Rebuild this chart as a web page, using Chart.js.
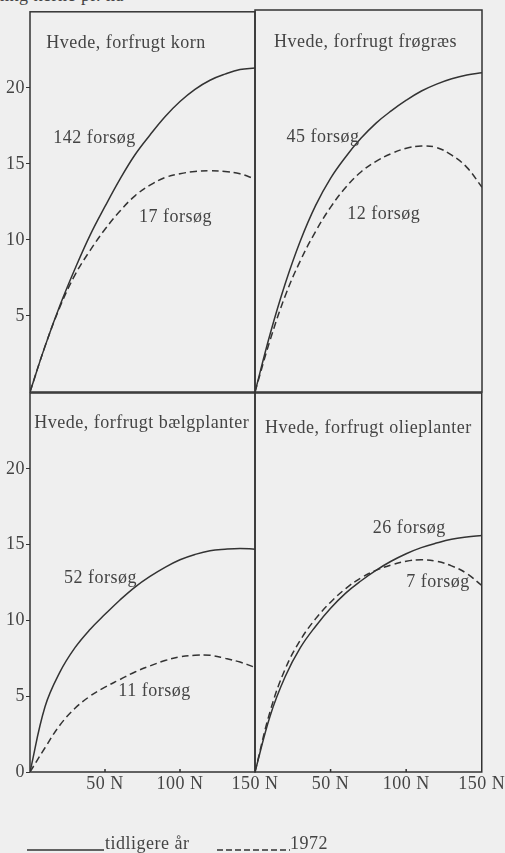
<!DOCTYPE html>
<html>
  <head>
    <script src="https://cdn.jsdelivr.net/npm/chart.js@4.4.0/dist/chart.umd.min.js"></script>
    <style>
      body { margin: 0; background: #efefef; width: 505px; height: 853px; overflow: hidden; position: relative; }
      canvas { position: absolute; left: 0; top: 0; }
      .txt { position: absolute; font-family: "Liberation Serif", serif; font-size: 18px; color: #444; letter-spacing: 0.5px; white-space: nowrap; }
      svg { position: absolute; }
    </style>
  </head>
  <body>
    <div class="txt" style="left:0px; top:-15px;">hkg kerne pr. ha</div>
    <canvas id="tl" width="505" height="853"></canvas>
    <canvas id="tr" width="505" height="853"></canvas>
    <canvas id="bl" width="505" height="853"></canvas>
    <canvas id="br" width="505" height="853"></canvas>
    <svg style="left:27px; top:846px;" width="78" height="8"><line x1="0" y1="4" x2="77" y2="4" stroke="#333" stroke-width="1.5"/></svg>
    <div class="txt" style="left:105px; top:833px;">tidligere år</div>
    <svg style="left:217px; top:846px;" width="74" height="8"><line x1="0" y1="4" x2="73" y2="4" stroke="#333" stroke-width="1.5" stroke-dasharray="6,3"/></svg>
    <div class="txt" style="left:290px; top:833px;">1972</div>
    <script>
      // DATA (hkg kerne pr. ha vs kg N)
      const nValues = [0, 10, 20, 30, 40, 50, 60, 70, 80, 90, 100, 110, 120, 130, 140, 150];

      const kornTidligere = [0, 3.0, 5.7, 8.1, 10.3, 12.2, 14.0, 15.6, 16.9, 18.1, 19.1, 19.9, 20.5, 20.9, 21.2, 21.3];
      const korn1972 = [0, 3.0, 5.6, 7.7, 9.3, 10.7, 11.9, 12.9, 13.6, 14.1, 14.35, 14.5, 14.55, 14.5, 14.35, 14.0];
      const frograesTidligere = [0, 3.8, 7.1, 9.9, 12.2, 14.0, 15.4, 16.6, 17.6, 18.4, 19.1, 19.7, 20.15, 20.5, 20.75, 20.9];
      const frograes1972 = [0, 3.4, 6.3, 8.6, 10.5, 12.1, 13.4, 14.4, 15.1, 15.6, 15.95, 16.1, 16.0, 15.5, 14.7, 13.4];
      const baelgTidligere = [0, 4.3, 6.6, 8.2, 9.4, 10.4, 11.35, 12.2, 12.9, 13.5, 14.0, 14.35, 14.6, 14.7, 14.75, 14.7];
      const baelg1972 = [0, 1.6, 3.1, 4.2, 5.0, 5.6, 6.1, 6.6, 7.0, 7.35, 7.6, 7.7, 7.7, 7.5, 7.25, 6.9];
      const olieTidligere = [0, 3.7, 6.3, 8.2, 9.6, 10.8, 11.8, 12.6, 13.3, 13.9, 14.4, 14.8, 15.1, 15.35, 15.5, 15.6];
      const olie1972 = [0, 4.0, 6.8, 8.7, 10.1, 11.2, 12.1, 12.8, 13.3, 13.65, 13.9, 14.0, 13.9, 13.6, 13.1, 12.3];

      const yTicksTop = [5, 10, 15, 20];
      const yTicksBottom = [0, 5, 10, 15, 20];
      const xTicks = [50, 100, 150];

      // HELPERS

      const FONT = { family: "'Liberation Serif', serif", size: 18 };
      const INK = "#333";
      const TEXT = "#444";

      function toPoints(arr) {
        return arr.map(function (v, i) {
          return { x: nValues[i], y: v };
        });
      }

      // frame around each panel, small inward x tick marks, in-panel texts
      const panelPlugin = {
        id: "panel",
        beforeDraw: function (chart) {
          chart.ctx.letterSpacing = "0.5px";
        },
        afterDatasetsDraw: function (chart, args, opts) {
          const ctx = chart.ctx;
          const a = chart.chartArea;
          ctx.save();
          ctx.strokeStyle = INK;
          ctx.lineWidth = 1.5;
          ctx.strokeRect(a.left, a.top, a.right - a.left, a.bottom - a.top);
          if (opts.xMarks) {
            ctx.beginPath();
            xTicks.slice(0, 2).forEach(function (v) {
              const px = chart.scales.x.getPixelForValue(v);
              ctx.moveTo(px, a.bottom);
              ctx.lineTo(px, a.bottom - 3);
            });
            ctx.stroke();
          }
          ctx.fillStyle = TEXT;
          ctx.font = FONT.size + "px " + FONT.family;
          ctx.textAlign = "center";
          ctx.textBaseline = "middle";
          (opts.labels || []).forEach(function (l) {
            ctx.fillText(l.text, chart.scales.x.getPixelForValue(l.x), chart.scales.y.getPixelForValue(l.y));
          });
          ctx.restore();
        },
      };

      function makePanel(id, solid, dashed, cfg) {
        return new Chart(document.getElementById(id), {
          type: "line",
          data: {
            datasets: [
              {
                data: toPoints(solid),
                borderColor: INK,
                borderWidth: 1.5,
                pointRadius: 0,
                tension: 0.4,
              },
              {
                data: toPoints(dashed),
                borderColor: INK,
                borderWidth: 1.5,
                borderDash: [7, 4],
                pointRadius: 0,
                tension: 0.4,
              },
            ],
          },
          options: {
            responsive: false,
            animation: false,
            layout: { padding: cfg.padding },
            plugins: {
              legend: { display: false },
              tooltip: { enabled: false },
              panel: { labels: cfg.labels, xMarks: cfg.showX },
            },
            scales: {
              x: {
                type: "linear",
                min: 0,
                max: 150,
                afterBuildTicks: function (s) {
                  s.ticks = xTicks.map(function (v) { return { value: v }; });
                },
                afterFit: function (s) { s.height = cfg.showX ? 20 : 0; },
                grid: { drawOnChartArea: false, drawTicks: false },
                border: { display: false },
                ticks: {
                  display: cfg.showX,
                  padding: 1,
                  color: TEXT,
                  font: FONT,
                  maxRotation: 0,
                  autoSkip: false,
                  callback: function (v) { return v + " N"; },
                },
              },
              y: {
                min: 0,
                max: 25,
                afterBuildTicks: function (s) {
                  s.ticks = cfg.yTicks.map(function (v) { return { value: v }; });
                },
                afterFit: function (s) { s.width = cfg.showY ? 30 : 0; },
                grid: { drawOnChartArea: false, drawTicks: cfg.showY, tickLength: 4, color: INK },
                border: { display: false },
                ticks: {
                  display: cfg.showY,
                  padding: 1,
                  color: TEXT,
                  font: FONT,
                  autoSkip: false,
                },
              },
            },
          },
          plugins: [panelPlugin],
        });
      }

      makePanel("tl", kornTidligere, korn1972, {
        padding: { left: 0, right: 250, top: 10, bottom: 461 },
        showX: false, showY: true, yTicks: yTicksTop,
        labels: [
          { text: "Hvede, forfrugt korn", x: 64, y: 22.9 },
          { text: "142 forsøg", x: 43, y: 16.7 },
          { text: "17 forsøg", x: 97, y: 11.5 },
        ],
      });
      makePanel("tr", frograesTidligere, frograes1972, {
        padding: { left: 255, right: 23, top: 10, bottom: 461 },
        showX: false, showY: false, yTicks: yTicksTop,
        labels: [
          { text: "Hvede, forfrugt frøgræs", x: 73, y: 22.9 },
          { text: "45 forsøg", x: 45, y: 16.7 },
          { text: "12 forsøg", x: 85, y: 11.6 },
        ],
      });
      makePanel("bl", baelgTidligere, baelg1972, {
        padding: { left: 0, right: 250, top: 393, bottom: 61 },
        showX: true, showY: true, yTicks: yTicksBottom,
        labels: [
          { text: "Hvede, forfrugt bælgplanter", x: 74.5, y: 23.0 },
          { text: "52 forsøg", x: 47, y: 12.8 },
          { text: "11 forsøg", x: 83, y: 5.3 },
        ],
      });
      makePanel("br", olieTidligere, olie1972, {
        padding: { left: 255, right: 23, top: 393, bottom: 61 },
        showX: true, showY: false, yTicks: yTicksBottom,
        labels: [
          { text: "Hvede, forfrugt olieplanter", x: 75, y: 22.7 },
          { text: "26 forsøg", x: 102, y: 16.05 },
          { text: "7 forsøg", x: 121, y: 12.5 },
        ],
      });
    </script>
  </body>
</html>
